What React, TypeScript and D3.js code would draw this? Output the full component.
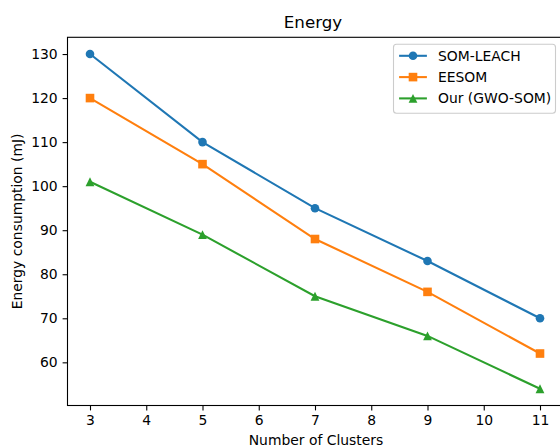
import React, { useRef, useEffect } from 'react';
import * as d3 from 'd3';

const clusters = [3, 5, 7, 9, 11];
const somLeach = [130, 110, 95, 83, 70];
const eesom = [120, 105, 88, 76, 62];
const gwoSom = [101, 89, 75, 66, 54];
const xTicks = [3, 4, 5, 6, 7, 8, 9, 10, 11];
const yTicks = [60, 70, 80, 90, 100, 110, 120, 130];

const series = [
  { name: 'SOM-LEACH', values: somLeach, color: '#1f77b4', marker: 'circle' },
  { name: 'EESOM', values: eesom, color: '#ff7f0e', marker: 'square' },
  { name: 'Our (GWO-SOM)', values: gwoSom, color: '#2ca02c', marker: 'triangle' },
];

const App = () => {
  const ref = useRef<SVGSVGElement>(null);

  useEffect(() => {
    const svg = d3.select(ref.current);
    svg.selectAll('*').remove();

    const width = 560;
    const height = 447;
    const font = 'DejaVu Sans, sans-serif';
    const fs = 13.9;
    const left = 67.5, right = 562.5, top = 37.3, bottom = 405.5;

    // matplotlib-like 5% margins
    const x = d3.scaleLinear().domain([2.6, 11.4]).range([left, right]);
    const y = d3.scaleLinear().domain([50.2, 133.8]).range([bottom, top]);

    svg.append('rect').attr('width', width).attr('height', height).attr('fill', '#fff');

    const marker = (g: any, type: string, color: string, cx: number, cy: number) => {
      if (type === 'circle') {
        g.append('circle').attr('cx', cx).attr('cy', cy).attr('r', 4.3).attr('fill', color);
      } else if (type === 'square') {
        g.append('rect').attr('x', cx - 4.3).attr('y', cy - 4.3)
          .attr('width', 8.6).attr('height', 8.6).attr('fill', color);
      } else {
        const s = 4.4;
        g.append('path')
          .attr('d', `M${cx},${cy - s}L${cx + s},${cy + s}L${cx - s},${cy + s}Z`)
          .attr('fill', color);
      }
    };

    // lines
    series.forEach(s => {
      const line = d3.line<number>()
        .x((_, i) => x(clusters[i]))
        .y(d => y(d));
      svg.append('path')
        .attr('d', line(s.values))
        .attr('fill', 'none')
        .attr('stroke', s.color)
        .attr('stroke-width', 2.08);
      const g = svg.append('g');
      s.values.forEach((v, i) => marker(g, s.marker, s.color, x(clusters[i]), y(v)));
    });

    // spines
    svg.append('rect')
      .attr('x', left).attr('y', top)
      .attr('width', right - left).attr('height', bottom - top)
      .attr('fill', 'none').attr('stroke', '#000').attr('stroke-width', 1.1);

    // x axis
    const xa = svg.append('g')
      .attr('transform', `translate(0,${bottom})`)
      .call(d3.axisBottom(x).tickValues(xTicks).tickSize(4.9).tickPadding(4.9).tickFormat(d3.format('d')));
    xa.select('.domain').remove();

    // y axis
    const ya = svg.append('g')
      .attr('transform', `translate(${left},0)`)
      .call(d3.axisLeft(y).tickValues(yTicks).tickSize(4.9).tickPadding(4.9).tickFormat(d3.format('d')));
    ya.select('.domain').remove();

    [xa, ya].forEach(a => {
      a.selectAll('line').attr('stroke', '#000').attr('stroke-width', 1.1);
      a.selectAll('text').attr('fill', '#000').style('font-family', font).style('font-size', `${fs}px`);
    });

    // title and labels
    svg.append('text')
      .attr('x', (left + right) / 2 - 2).attr('y', 28)
      .attr('text-anchor', 'middle')
      .style('font-family', font).style('font-size', `${fs * 1.2}px`)
      .text('Energy');

    svg.append('text')
      .attr('x', (left + right) / 2 + 1).attr('y', 445)
      .attr('text-anchor', 'middle')
      .style('font-family', font).style('font-size', `${fs}px`)
      .text('Number of Clusters');

    svg.append('text')
      .attr('transform', `translate(22,${(top + bottom) / 2}) rotate(-90)`)
      .attr('text-anchor', 'middle')
      .style('font-family', font).style('font-size', `${fs}px`)
      .text('Energy consumption (mJ)');

    // legend
    const lgW = 162, lgH = 69;
    const lgX = right - 7 - lgW, lgY = top + 7;
    const lg = svg.append('g');
    lg.append('rect')
      .attr('x', lgX).attr('y', lgY).attr('width', lgW).attr('height', lgH)
      .attr('rx', 3).attr('fill', 'rgba(255,255,255,0.8)')
      .attr('stroke', '#ccc').attr('stroke-width', 1.1);
    series.forEach((s, i) => {
      const cy = lgY + 11.5 + i * 21.3;
      const hx = lgX + 5.6;
      lg.append('line')
        .attr('x1', hx).attr('x2', hx + 27.8).attr('y1', cy).attr('y2', cy)
        .attr('stroke', s.color).attr('stroke-width', 2.08);
      marker(lg, s.marker, s.color, hx + 13.9, cy);
      lg.append('text')
        .attr('x', hx + 27.8 + 11.1).attr('y', cy).attr('dy', '0.36em')
        .style('font-family', font).style('font-size', `${fs}px`)
        .text(s.name);
    });
  }, []);

  return (
    <svg ref={ref} width={560} height={447}
      style={{ position: 'absolute', left: 0, top: 0 }} />
  );
};

export default App;
